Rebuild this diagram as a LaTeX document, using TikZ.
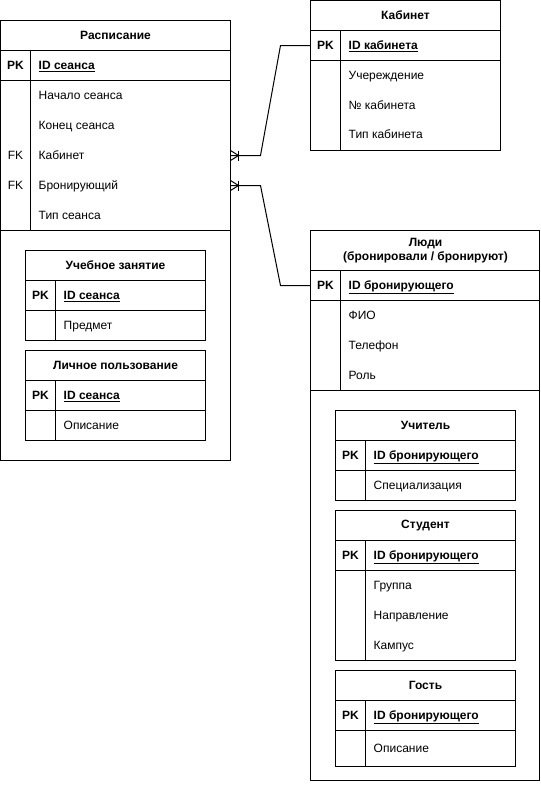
\documentclass[tikz,border=0pt]{standalone}
\usepackage{fontspec}
\setmainfont{Liberation Sans}
\newcommand\fsz{\fontsize{12}{14}\selectfont}
\begin{document}
\begin{tikzpicture}[x=1pt,y=-1pt,
  box/.style={draw, line width=1pt, rectangle, inner sep=0pt, outer sep=0pt, anchor=north west},
  ttl/.style={font=\fsz\bfseries, align=center, inner sep=0pt},
  fld/.style={font=\fsz, anchor=west, inner sep=0pt, text height=10pt, text depth=2pt},
  keyf/.style={font=\fsz, inner sep=0pt, text height=10pt, text depth=2pt},
  keyp/.style={font=\fsz\bfseries, inner sep=0pt, text height=10pt, text depth=2pt},
  pkf/.style={font=\fsz\bfseries, anchor=west, inner sep=0pt, text height=10pt, text depth=2pt},
  ln/.style={line width=1pt},
]
\useasboundingbox (-0.5,-0.5) rectangle (540.5,800.5);

% ---------- Расписание ----------
\node[box, minimum width=230pt, minimum height=440pt] (rasp) at (0,20) {};
\node[ttl] (rasp-t) at (115,35) {Расписание};
\draw[ln] (0,50) -- (230,50) (0,80) -- (230,80) (0,230) -- (230,230) (30,50) -- (30,230);
\node[keyp] (rasp-pkk) at (15,65) {PK};
\node[pkf] (rasp-pk) at (38,65) {\underline{ID сеанса}};
\node[fld] (rasp-f1) at (38,95) {Начало сеанса};
\node[fld] (rasp-f2) at (38,125) {Конец сеанса};
\node[keyf] (rasp-fk1k) at (15,155) {FK};
\node[fld] (rasp-fk1) at (38,155) {Кабинет};
\node[keyf] (rasp-fk2k) at (15,185) {FK};
\node[fld] (rasp-fk2) at (38,185) {Бронирующий};
\node[fld] (rasp-f5) at (38,215) {Тип сеанса};

% Учебное занятие
\node[box, minimum width=180pt, minimum height=90pt] (ucheb) at (25,250) {};
\node[ttl] (ucheb-t) at (115,265) {Учебное занятие};
\draw[ln] (25,280) -- (205,280) (25,310) -- (205,310) (55,280) -- (55,340);
\node[keyp] (ucheb-pkk) at (40,295) {PK};
\node[pkf] (ucheb-pk) at (63,295) {\underline{ID сеанса}};
\node[fld] (ucheb-f1) at (63,325) {Предмет};

% Личное пользование
\node[box, minimum width=180pt, minimum height=90pt] (lich) at (25,350) {};
\node[ttl] (lich-t) at (115,365) {Личное пользование};
\draw[ln] (25,380) -- (205,380) (25,410) -- (205,410) (55,380) -- (55,440);
\node[keyp] (lich-pkk) at (40,395) {PK};
\node[pkf] (lich-pk) at (63,395) {\underline{ID сеанса}};
\node[fld] (lich-f1) at (63,425) {Описание};

% ---------- Кабинет ----------
\node[box, minimum width=190pt, minimum height=150pt] (kab) at (310,0) {};
\node[ttl] (kab-t) at (405,15) {Кабинет};
\draw[ln] (310,30) -- (500,30) (310,60) -- (500,60) (340,30) -- (340,150);
\node[keyp] (kab-pkk) at (325,45) {PK};
\node[pkf] (kab-pk) at (348,45) {\underline{ID кабинета}};
\node[fld] (kab-f1) at (348,75) {Учереждение};
\node[fld] (kab-f2) at (348,105) {№ кабинета};
\node[fld] (kab-f3) at (348,134) {Тип кабинета};

% ---------- Люди ----------
\node[box, minimum width=229pt, minimum height=550pt] (lyudi) at (310,230) {};
\node[ttl] (lyudi-t) at (425,250) {Люди\\(бронировали / бронируют)};
\draw[ln] (310,270) -- (539,270) (310,300) -- (539,300) (310,390) -- (539,390) (340,270) -- (340,390);
\node[keyp] (lyudi-pkk) at (325,285) {PK};
\node[pkf] (lyudi-pk) at (348,285) {\underline{ID бронирующего}};
\node[fld] (lyudi-f1) at (348,315) {ФИО};
\node[fld] (lyudi-f2) at (348,345) {Телефон};
\node[fld] (lyudi-f3) at (348,375) {Роль};

% Учитель
\node[box, minimum width=180pt, minimum height=90pt] (uch) at (335,410) {};
\node[ttl] (uch-t) at (425,425) {Учитель};
\draw[ln] (335,440) -- (515,440) (335,470) -- (515,470) (365,440) -- (365,500);
\node[keyp] (uch-pkk) at (350,455) {PK};
\node[pkf] (uch-pk) at (373,455) {\underline{ID бронирующего}};
\node[fld] (uch-f1) at (373,485) {Специализация};

% Студент
\node[box, minimum width=180pt, minimum height=150pt] (stud) at (335,510) {};
\node[ttl] (stud-t) at (425,525) {Студент};
\draw[ln] (335,540) -- (515,540) (335,570) -- (515,570) (365,540) -- (365,660);
\node[keyp] (stud-pkk) at (350,555) {PK};
\node[pkf] (stud-pk) at (373,555) {\underline{ID бронирующего}};
\node[fld] (stud-f1) at (373,585) {Группа};
\node[fld] (stud-f2) at (373,615) {Направление};
\node[fld] (stud-f3) at (373,645) {Кампус};

% Гость
\node[box, minimum width=180pt, minimum height=96pt] (gost) at (335,670) {};
\node[ttl] (gost-t) at (425,685) {Гость};
\draw[ln] (335,700) -- (515,700) (335,730) -- (515,730) (365,700) -- (365,766);
\node[keyp] (gost-pkk) at (350,715) {PK};
\node[pkf] (gost-pk) at (373,715) {\underline{ID бронирующего}};
\node[fld] (gost-f1) at (373,748) {Описание};

% ---------- Connectors ----------
\coordinate (e1) at (rasp.east |- rasp-fk1);
\coordinate (t1) at (kab.west |- kab-pk);
\coordinate (e2) at (rasp.east |- rasp-fk2);
\coordinate (t2) at (lyudi.west |- lyudi-pk);

\draw[ln] (e1) -- ++(30,0) -- ([xshift=-30pt]t1) -- (t1);
\draw[ln] (e2) -- ++(30,0) -- ([xshift=-30pt]t2) -- (t2);

% crow's feet (one-or-many) at Расписание
\foreach \e in {e1,e2}{
  \draw[ln] ([yshift=5pt]\e) -- ([xshift=8pt]\e) -- ([yshift=-5pt]\e);
  \draw[ln] ([xshift=8pt,yshift=5pt]\e) -- ([xshift=8pt,yshift=-5pt]\e);
}
\end{tikzpicture}
\end{document}
